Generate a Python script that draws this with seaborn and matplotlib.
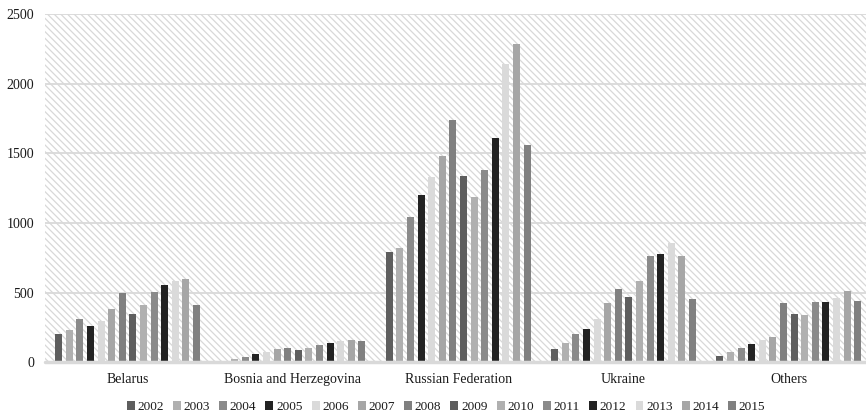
import pandas as pd
import matplotlib
matplotlib.use("Agg")
import matplotlib.pyplot as plt
import seaborn as sns
import numpy as np
from matplotlib.patches import Rectangle

countries = ['Belarus', 'Bosnia and Herzegovina', 'Russian Federation', 'Ukraine', 'Others']
years = [str(y) for y in range(2002, 2016)]

belarus = [202, 233, 311, 264, 295, 381, 497, 345, 409, 504, 557, 581, 597, 412]
bosnia = [0, 21, 38, 57, 71, 93, 104, 88, 104, 121, 136, 150, 159, 152]
russia = [793, 824, 1045, 1204, 1331, 1483, 1738, 1338, 1188, 1378, 1607, 2143, 2286, 1562]
ukraine = [95, 138, 200, 236, 314, 423, 528, 471, 585, 764, 778, 857, 766, 452]
others = [46, 72, 105, 134, 162, 185, 424, 348, 341, 430, 430, 465, 513, 437]

palette = ['#5e5e5e', '#b0b0b0', '#8a8a8a', '#232323', '#dadada', '#a6a6a6', '#808080',
           '#5e5e5e', '#b0b0b0', '#8a8a8a', '#232323', '#dadada', '#a6a6a6', '#808080']

yticks = [0, 500, 1000, 1500, 2000, 2500]

rows = []
for c, vals in zip(countries, [belarus, bosnia, russia, ukraine, others]):
    for y, v in zip(years, vals):
        rows.append({'country': c, 'year': y, 'value': v})
df = pd.DataFrame(rows)

sns.set_style("white")
plt.rcParams['font.family'] = ['Liberation Serif', 'DejaVu Serif']
plt.rcParams['hatch.color'] = '#d8d8d8'
plt.rcParams['hatch.linewidth'] = 0.9

fig = plt.figure(figsize=(8.66, 4.19), dpi=100)
ax = fig.add_axes([45 / 866, 1 - 362.3 / 419, 826.5 / 866, 348.3 / 419])

# hatched plot background
ax.add_patch(Rectangle((0, 0), 1, 1, transform=ax.transAxes, facecolor='white',
                       edgecolor='#d8d8d8', linewidth=0, hatch='\\\\\\\\\\', zorder=0))

for t in yticks[1:]:
    ax.axhline(t, color='#d9d9d9', lw=1.3, zorder=1)

sns.barplot(data=df, x='country', y='value', hue='year', palette=palette,
            saturation=1, width=0.898, gap=0.34, edgecolor='none', ax=ax, zorder=2)

ax.axhline(0, color='#d9d9d9', lw=2.5, zorder=3, clip_on=False)

ax.set_ylim(0, 2500)
ax.set_xlim(-0.5, 4.5)
ax.set_yticks(yticks)
ax.set_xlabel('')
ax.set_ylabel('')
for s in ax.spines.values():
    s.set_visible(False)
ax.tick_params(axis='both', length=0, labelsize=10, colors='#1a1a1a')
ax.tick_params(axis='x', pad=8)
ax.tick_params(axis='y', pad=8)

ax.legend(loc='center', bbox_to_anchor=(446 / 866, 12 / 419), bbox_transform=fig.transFigure,
          ncol=14, frameon=False, fontsize=9.5, handlelength=0.6, handleheight=0.6,
          handletextpad=0.2, columnspacing=0.7, borderaxespad=0, labelcolor='#1a1a1a')

fig.savefig('out.png', dpi=100)
